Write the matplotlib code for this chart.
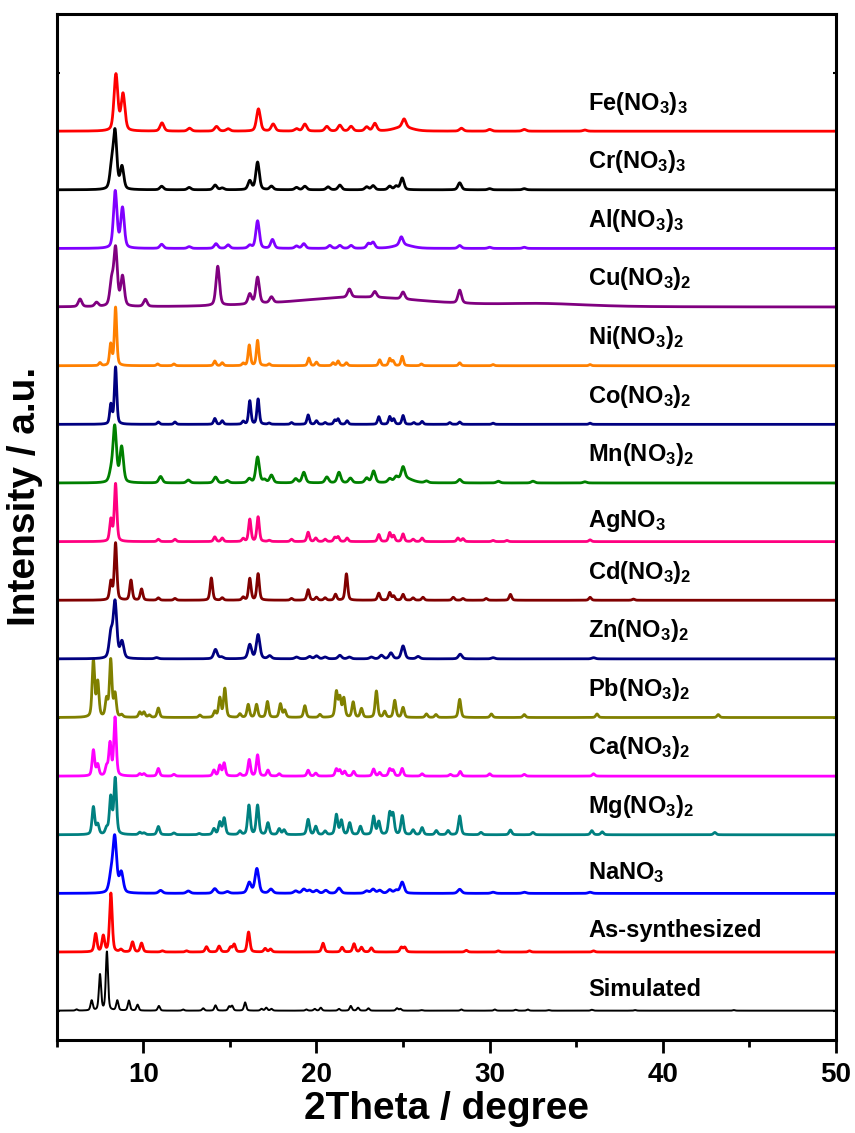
import matplotlib
matplotlib.use("Agg")
import matplotlib.pyplot as plt
import numpy as np

plt.rcParams['font.family'] = ['Liberation Sans', 'DejaVu Sans']
plt.rcParams['font.weight'] = 'bold'
plt.rcParams['mathtext.fontset'] = 'custom'
plt.rcParams['mathtext.rm'] = 'Liberation Sans:bold'
plt.rcParams['mathtext.bf'] = 'Liberation Sans:bold'
plt.rcParams['mathtext.it'] = 'Liberation Sans:bold'
plt.rcParams['mathtext.default'] = 'bf'

# peak lists: (2theta, relative intensity[, fwhm])
sim_peaks = [(6.15, 0.02), (7.02, 0.17), (7.5, 0.61), (7.9, 1.0), (8.5, 0.17), (9.17, 0.17),
             (9.67, 0.1), (10.9, 0.08), (12.3, 0.02), (13.46, 0.04), (14.17, 0.09), (14.96, 0.07),
             (15.13, 0.08), (15.88, 0.14), (16.83, 0.03), (17.1, 0.05), (17.4, 0.03), (19.42, 0.02),
             (19.9, 0.03), (20.25, 0.05), (21.3, 0.03), (21.98, 0.08), (22.4, 0.05), (23.0, 0.04),
             (24.65, 0.04), (24.85, 0.03), (26.06, 0.01), (28.37, 0.02), (30.3, 0.02), (31.5, 0.015),
             (32.2, 0.02), (33.4, 0.01), (35.9, 0.015), (38.4, 0.01), (44.1, 0.01)]
as_peaks = [(7.25, 0.31), (7.69, 0.27), (8.13, 1.0), (8.71, 0.04), (9.38, 0.17), (9.9, 0.15),
            (11.1, 0.02), (12.5, 0.02), (13.65, 0.09), (14.38, 0.1), (15.04, 0.08), (15.25, 0.13),
            (16.08, 0.34), (17.04, 0.06), (17.35, 0.05), (20.38, 0.15), (21.48, 0.08), (22.17, 0.14),
            (22.6, 0.08), (23.17, 0.07), (24.9, 0.08), (25.1, 0.08), (28.65, 0.03), (30.5, 0.02),
            (32.3, 0.02), (36.0, 0.02)]
na_peaks = [(8.13, 0.25), (8.35, 0.94), (8.73, 0.34), (11.0, 0.05), (12.6, 0.04), (14.13, 0.08),
            (14.85, 0.03), (16.12, 0.18), (16.56, 0.42), (17.37, 0.07), (18.8, 0.04), (19.27, 0.07),
            (19.6, 0.05), (20.0, 0.05), (20.54, 0.05), (21.3, 0.09), (22.9, 0.04), (23.27, 0.07),
            (23.65, 0.05), (24.23, 0.06), (24.6, 0.05), (24.95, 0.19), (28.27, 0.07), (30.2, 0.02),
            (32.0, 0.02), (35.8, 0.02)]
mg_peaks = [(7.12, 0.47), (7.37, 0.17), (7.88, 0.1), (8.12, 0.63), (8.38, 0.95), (9.8, 0.04),
            (10.04, 0.03), (10.87, 0.14), (11.77, 0.03), (13.23, 0.02), (14.08, 0.1), (14.42, 0.21),
            (14.67, 0.28), (15.58, 0.06), (16.1, 0.5), (16.6, 0.5), (17.2, 0.2), (17.85, 0.1),
            (18.13, 0.08), (19.52, 0.26), (19.96, 0.14), (20.5, 0.06), (21.15, 0.34), (21.44, 0.24),
            (21.92, 0.2), (22.54, 0.14), (23.3, 0.31), (23.6, 0.22), (24.23, 0.36), (24.42, 0.34),
            (24.95, 0.32), (25.58, 0.08), (26.1, 0.12), (26.92, 0.07), (27.6, 0.07), (28.27, 0.32),
            (29.5, 0.04), (31.2, 0.08), (32.5, 0.04), (35.9, 0.07), (36.5, 0.05), (43.0, 0.04)]
ca_peaks = [(7.12, 0.44), (7.37, 0.19), (7.88, 0.15), (8.08, 0.55), (8.37, 0.99), (9.8, 0.04),
            (10.04, 0.04), (10.87, 0.13), (11.77, 0.03), (14.08, 0.1), (14.42, 0.18), (14.67, 0.22),
            (15.58, 0.04), (16.12, 0.28), (16.6, 0.36), (17.2, 0.1), (17.85, 0.04), (19.52, 0.1),
            (19.96, 0.05), (21.15, 0.12), (21.35, 0.1), (21.63, 0.08), (22.15, 0.08), (23.3, 0.12),
            (23.65, 0.06), (24.23, 0.12), (24.42, 0.1), (24.95, 0.13), (26.1, 0.04), (27.73, 0.03),
            (28.3, 0.08), (30.0, 0.04), (32.0, 0.03), (36.0, 0.04)]
pb_peaks = [(7.12, 0.97), (7.37, 0.59), (7.88, 0.3), (8.12, 0.97), (8.37, 0.39), (8.75, 0.04),
            (9.8, 0.09), (10.04, 0.09), (10.35, 0.04), (10.87, 0.16), (13.27, 0.04), (14.13, 0.1),
            (14.42, 0.33), (14.71, 0.49), (15.58, 0.06), (16.06, 0.22), (16.54, 0.22), (17.17, 0.27),
            (17.92, 0.23), (18.17, 0.12), (19.33, 0.2), (20.2, 0.05), (21.15, 0.43), (21.35, 0.33),
            (21.58, 0.32), (22.12, 0.26), (22.6, 0.15), (23.46, 0.45), (23.94, 0.1), (24.52, 0.29),
            (25.0, 0.17), (26.35, 0.06), (26.9, 0.05), (28.27, 0.31), (30.1, 0.06), (32.0, 0.05),
            (36.2, 0.06), (43.2, 0.05)]
zn_peaks = [(8.13, 0.41), (8.37, 0.95), (8.77, 0.28), (10.77, 0.02), (14.17, 0.16), (14.52, 0.03),
            (16.15, 0.24), (16.63, 0.41), (17.3, 0.05), (18.85, 0.03), (19.6, 0.04), (20.0, 0.05),
            (20.5, 0.03), (21.35, 0.06), (21.9, 0.03), (23.17, 0.03), (23.75, 0.06), (24.3, 0.1),
            (25.0, 0.22), (25.87, 0.04), (28.3, 0.08), (30.2, 0.02), (36.0, 0.02)]
cd_peaks = [(8.13, 0.31), (8.4, 0.97), (9.29, 0.34), (9.9, 0.19), (10.87, 0.04), (11.83, 0.03),
            (13.93, 0.38), (14.56, 0.04), (15.77, 0.05), (16.15, 0.37), (16.63, 0.45), (18.56, 0.03),
            (19.52, 0.18), (20.0, 0.05), (20.5, 0.04), (21.1, 0.1), (21.73, 0.45), (23.6, 0.12),
            (24.23, 0.13), (24.46, 0.07), (25.0, 0.1), (25.58, 0.04), (26.15, 0.05), (27.9, 0.05),
            (28.46, 0.03), (29.8, 0.03), (31.2, 0.1), (35.8, 0.05), (38.3, 0.02)]
ag_peaks = [(8.13, 0.37), (8.4, 0.98), (10.87, 0.04), (11.83, 0.04), (14.13, 0.08), (14.56, 0.06),
            (15.77, 0.05), (16.15, 0.38), (16.63, 0.42), (17.27, 0.02), (18.56, 0.04), (19.52, 0.16),
            (19.96, 0.06), (20.5, 0.04), (21.06, 0.07), (21.25, 0.08), (21.77, 0.06), (23.6, 0.12),
            (24.23, 0.15), (24.46, 0.1), (25.0, 0.13), (25.58, 0.04), (26.1, 0.06), (28.17, 0.06),
            (28.46, 0.05), (30.2, 0.02), (31.0, 0.02), (35.8, 0.03)]
mn_peaks = [(8.13, 0.15), (8.35, 0.95), (8.75, 0.6), (11.0, 0.11), (12.6, 0.05), (14.17, 0.1),
            (14.85, 0.04), (16.12, 0.07), (16.6, 0.44), (17.0, 0.05), (17.4, 0.13), (18.8, 0.07),
            (19.27, 0.18), (20.6, 0.1), (21.3, 0.18), (21.96, 0.08), (22.9, 0.08), (23.3, 0.2),
            (24.23, 0.06), (24.6, 0.07), (25.0, 0.2), (25.1, 0.08, 1.0), (26.35, 0.03), (28.27, 0.06),
            (30.5, 0.03), (32.5, 0.03), (35.5, 0.02)]
co_peaks = [(8.13, 0.33), (8.4, 0.97), (10.87, 0.04), (11.83, 0.04), (14.13, 0.1), (14.56, 0.06),
            (15.77, 0.05), (16.15, 0.4), (16.63, 0.43), (17.27, 0.02), (18.56, 0.03), (19.52, 0.16),
            (20.0, 0.06), (20.5, 0.03), (21.06, 0.07), (21.25, 0.09), (21.77, 0.06), (23.6, 0.13),
            (24.23, 0.13), (24.46, 0.09), (25.0, 0.15), (25.62, 0.03), (26.1, 0.05), (27.7, 0.03),
            (28.27, 0.04), (30.2, 0.02), (35.8, 0.02)]
ni_peaks = [(7.5, 0.05), (8.12, 0.36), (8.4, 0.99), (10.83, 0.03), (11.77, 0.03), (14.13, 0.08),
            (14.56, 0.05), (15.77, 0.04), (16.12, 0.35), (16.6, 0.43), (17.27, 0.03), (19.56, 0.13),
            (20.0, 0.06), (20.96, 0.05), (21.25, 0.08), (21.73, 0.05), (23.65, 0.1), (24.23, 0.12),
            (24.42, 0.08), (24.95, 0.16), (26.06, 0.03), (28.27, 0.05), (30.2, 0.02), (35.8, 0.02)]
cu_peaks = [(6.35, 0.13), (7.3, 0.07), (8.17, 0.4), (8.4, 0.97), (8.8, 0.5), (10.12, 0.12),
            (14.3, 0.67), (16.15, 0.17), (16.6, 0.45), (17.4, 0.1), (21.9, 0.14), (23.37, 0.1),
            (25.0, 0.12), (28.27, 0.22), (22.5, 0.17, 9.0), (33.0, 0.05, 6.0)]
al_peaks = [(8.38, 0.97), (8.8, 0.68), (11.06, 0.07), (12.65, 0.03), (14.2, 0.08), (14.9, 0.06),
            (16.15, 0.05), (16.6, 0.47), (17.46, 0.15), (18.85, 0.04), (19.27, 0.08), (20.77, 0.05),
            (21.35, 0.05), (22.0, 0.05), (23.0, 0.08), (23.27, 0.1), (24.9, 0.14), (25.0, 0.06, 1.2),
            (28.27, 0.05), (30.0, 0.02), (32.0, 0.02)]
cr_peaks = [(8.17, 0.36), (8.37, 0.96), (8.77, 0.38), (11.06, 0.06), (12.65, 0.04), (14.15, 0.08),
            (14.56, 0.03), (16.15, 0.15), (16.6, 0.47), (17.4, 0.06), (18.85, 0.04), (19.33, 0.06),
            (20.67, 0.05), (21.35, 0.08), (22.9, 0.05), (23.27, 0.07), (24.23, 0.06), (24.6, 0.06),
            (24.95, 0.2), (28.27, 0.12), (30.0, 0.02), (32.0, 0.02)]
fe_peaks = [(8.42, 0.96), (8.83, 0.62), (11.08, 0.14), (12.67, 0.05), (14.23, 0.08), (14.9, 0.04),
            (16.65, 0.38), (17.5, 0.12), (18.85, 0.04), (19.33, 0.12), (20.6, 0.08), (21.35, 0.1),
            (22.0, 0.08), (22.9, 0.07), (23.37, 0.13), (25.06, 0.14), (25.0, 0.07, 1.2), (28.37, 0.05),
            (30.0, 0.03), (32.0, 0.03), (35.5, 0.02)]

# bottom to top
patterns = [sim_peaks, as_peaks, na_peaks, mg_peaks, ca_peaks, pb_peaks, zn_peaks, cd_peaks,
            ag_peaks, mn_peaks, co_peaks, ni_peaks, cu_peaks, al_peaks, cr_peaks, fe_peaks]
labels = ['Simulated', 'As-synthesized', r'NaNO$_3$', r'Mg(NO$_3$)$_2$', r'Ca(NO$_3$)$_2$',
          r'Pb(NO$_3$)$_2$', r'Zn(NO$_3$)$_2$', r'Cd(NO$_3$)$_2$', r'AgNO$_3$', r'Mn(NO$_3$)$_2$',
          r'Co(NO$_3$)$_2$', r'Ni(NO$_3$)$_2$', r'Cu(NO$_3$)$_2$', r'Al(NO$_3$)$_3$',
          r'Cr(NO$_3$)$_3$', r'Fe(NO$_3$)$_3$']
colors = ['#000000', '#FF0000', '#0000FF', '#008080', '#FF00FF', '#808000', '#000080', '#800000',
          '#FF0080', '#008000', '#000080', '#FF8000', '#800080', '#8000FF', '#000000', '#FF0000']
widths = [0.15, 0.18, 0.26, 0.18, 0.17, 0.17, 0.24, 0.17, 0.17, 0.24, 0.16, 0.16, 0.24, 0.24, 0.24, 0.26]


def pattern(x, peaks, fwhm):
    y = np.zeros_like(x)
    for p in peaks:
        w = p[2] if len(p) > 2 else fwhm
        d = (x - p[0]) / (w / 2)
        y += p[1] * (0.4 / (1 + d ** 2) + 0.6 * np.exp(-np.log(2) * d ** 2))
    return y


two_theta = np.arange(5, 50.001, 0.01)

fig = plt.figure(figsize=(8.55, 11.33), dpi=100)
ax = fig.add_axes([0.0663, 0.0821, 0.9115, 0.9056])

for i, (peaks, lab, c, w) in enumerate(zip(patterns, labels, colors, widths)):
    lw = 1.4 if i == 0 else 2.0
    ax.plot(two_theta, pattern(two_theta, peaks, w) + i, color=c, lw=lw)
    off = 0.25 if '(' not in lab else 0.37
    ax.text(35.7, i + off, lab, fontsize=17, fontweight='bold', ha='left', va='baseline')

ax.set_xlim(5, 50)
ax.set_ylim(-0.5, 17)
ax.set_xticks([10, 20, 30, 40, 50])
ax.set_xticks([5, 15, 25, 35, 45], minor=True)
ax.set_yticks(range(17))
ax.tick_params(axis='x', which='major', direction='out', length=9, width=2, labelsize=20, pad=7)
ax.tick_params(axis='x', which='minor', direction='out', length=5, width=2)
ax.tick_params(axis='y', direction='in', length=2, width=1.5, labelleft=False, right=True)
for s in ax.spines.values():
    s.set_linewidth(2.2)

ax.set_xlabel('2Theta / degree', fontsize=28, fontweight='bold', labelpad=2)
ax.set_ylabel('Intensity / a.u.', fontsize=28, fontweight='bold')
ax.yaxis.set_label_coords(-0.018, 0.53)

fig.savefig('out.png', dpi=100)
